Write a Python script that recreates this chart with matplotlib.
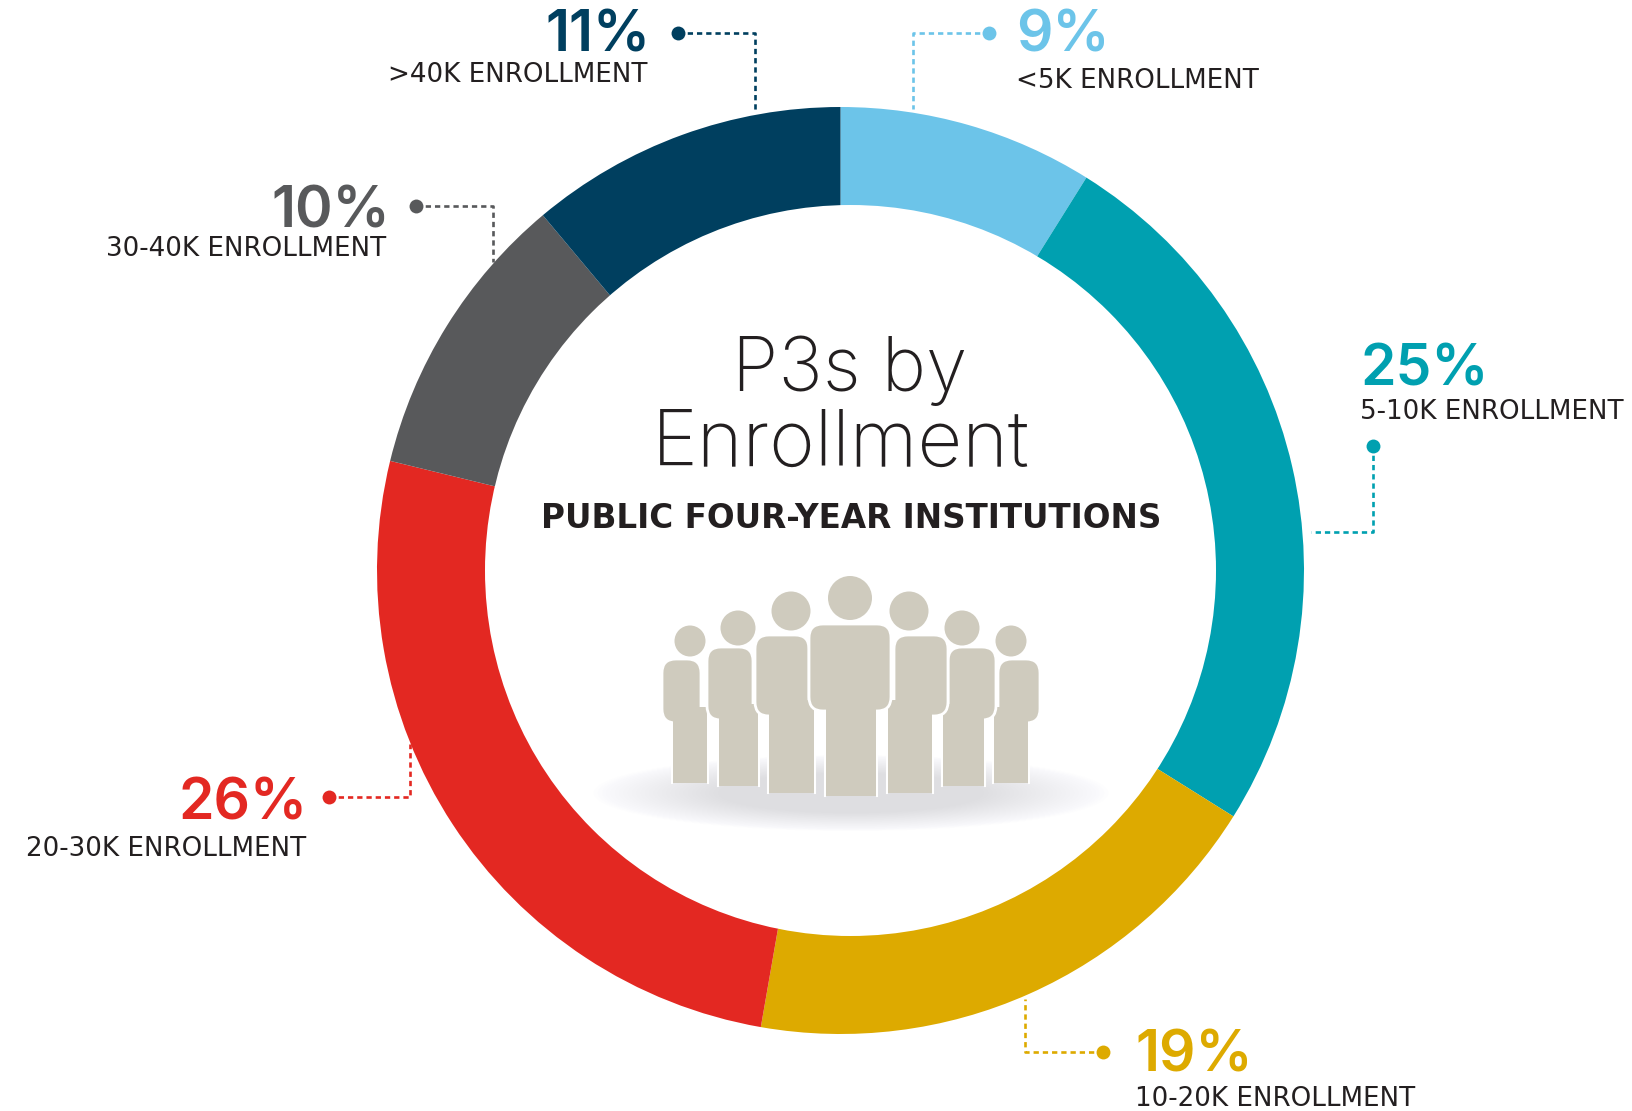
import matplotlib
matplotlib.use("Agg")
import matplotlib.pyplot as plt
from matplotlib.patches import Circle, Ellipse, FancyBboxPatch

W, H = 1632, 1111
categories = ["<5K ENROLLMENT", "5-10K ENROLLMENT", "10-20K ENROLLMENT",
              "20-30K ENROLLMENT", "30-40K ENROLLMENT", ">40K ENROLLMENT"]
shares = [9, 25, 19, 26, 10, 11]                  # printed percentages
arc_shares = [8.9, 25.0, 18.85, 26.05, 10.1, 11.1]  # arc lengths as drawn in the picture
colors = ["#6CC4E9", "#00A0B0", "#DDAA00", "#E32822", "#58595B", "#003F5F"]

title_lines = ["P3s by", "Enrollment"]
subtitle = "PUBLIC FOUR-YEAR INSTITUTIONS"

# layout in figure pixels: percent anchor, label anchor, text alignment, leader path
pct_xy = [(1016, 37), (1360, 370), (1135, 1057), (308, 805), (390, 212), (651, 37)]
lab_xy = [(1016, 81), (1360, 412), (1135, 1099), (306, 849), (386, 249), (648, 75)]
aligns = ["left", "left", "left", "right", "right", "right"]
leaders = [
    [(989, 33), (913, 33), (913, 109)],
    [(1373, 446), (1373, 532), (1311, 532)],
    [(1103, 1052), (1025, 1052), (1025, 999)],
    [(329, 797), (410, 797), (410, 744)],
    [(416, 206), (493, 206), (493, 262)],
    [(678, 33), (755, 33), (755, 112)],
]

FONT = ["Inter", "Lato", "DejaVu Sans"]
WIDE = ["DejaVu Sans"]
CX, CY, R_OUT = 840.5, 570.5, 463.5
HOLE_X, HOLE_Y, HOLE_R = 850.5, 570.5, 365.5

fig = plt.figure(figsize=(W / 100, H / 100), dpi=100, facecolor="white")
ax_pie = fig.add_axes([(CX - R_OUT) / W, 1 - (CY + R_OUT) / H, 2 * R_OUT / W, 2 * R_OUT / H])
ax_pie.pie(arc_shares, colors=colors, startangle=90, counterclock=False, radius=1,
           wedgeprops=dict(linewidth=0))
ax_pie.set_xlim(-1, 1)
ax_pie.set_ylim(-1, 1)
ax_pie.set_aspect("equal")

ax = fig.add_axes([0, 0, 1, 1], facecolor="none")
ax.set_xlim(0, W)
ax.set_ylim(H, 0)
ax.axis("off")
ax.add_patch(Circle((HOLE_X, HOLE_Y), HOLE_R, fc="white", ec="none", zorder=1))

# callouts
for i, name in enumerate(categories):
    c = colors[i]
    path = leaders[i]
    ax.plot([p[0] for p in path], [p[1] for p in path], color=c, lw=1.9,
            ls=(0, (2.0, 1.5)), solid_capstyle="butt", zorder=2)
    ax.plot(*path[0], "o", color=c, ms=10, mew=0, zorder=3)
    ax.text(*pct_xy[i], f"{shares[i]}%", color=c, fontsize=41, fontweight="semibold",
            ha=aligns[i], va="center", family=FONT)
    ax.text(*lab_xy[i], name, color="#231F20", fontsize=18.8, ha=aligns[i],
            va="center", family=WIDE)

# centre text
ax.text(850, 371, title_lines[0], color="#231F20", fontsize=54, fontweight="light",
        ha="center", va="center", family=FONT)
ax.text(841, 445, title_lines[1], color="#231F20", fontsize=56, fontweight="light",
        ha="center", va="center", family=FONT)
ax.text(851, 518, subtitle, color="#231F20", fontsize=23.5, fontweight="bold",
        ha="center", va="center", family=WIDE)

# crowd icon: soft shadow, then figures back to front
for k in range(30):
    f = 1 - k / 60
    ax.add_patch(Ellipse((851, 793), 515 * f, 76 * f, color="#DADAE1", alpha=0.03, lw=0, zorder=1.5))

SKIN = "#CFCBBE"
people = [  # head x, y, r, body left, right, top, arm bottom, legs left, right, bottom
    (690, 641, 15.5, 662, 701, 659, 723, 673, 707, 783),
    (1011, 641, 15.5, 998, 1040, 659, 723, 994, 1028, 783),
    (738, 628, 17.5, 707, 753, 647, 720, 719, 758, 786),
    (962, 628, 17.5, 948, 996, 647, 720, 943, 984, 786),
    (791, 611, 19.5, 755, 809, 635, 716, 769, 814, 793),
    (909, 611, 19.5, 894, 948, 635, 716, 888, 932, 793),
    (850, 598, 22, 809, 891, 624, 711, 826, 876, 796),
]
for z, (hx, hy, r, bl, br, bt, ab, ll, lr, lb) in enumerate(people):
    zo = 4 + z
    ax.add_patch(FancyBboxPatch((bl + 11, bt + 11), br - bl - 22, ab - bt - 22,
                                boxstyle="round,pad=11,rounding_size=14",
                                fc=SKIN, ec="white", lw=2, zorder=zo))
    ax.add_patch(plt.Rectangle((ll, ab - 16), lr - ll, lb - ab + 16, fc=SKIN, ec="none", zorder=zo + 0.5))
    ax.plot([ll - 1, ll - 1], [ab, lb], color="white", lw=1.5, zorder=zo + 0.4)
    ax.plot([lr + 1, lr + 1], [ab, lb], color="white", lw=1.5, zorder=zo + 0.4)
    ax.add_patch(Circle((hx, hy), r, fc=SKIN, ec="none", zorder=zo + 0.5))

fig.savefig("out.png", dpi=100, facecolor="white")
